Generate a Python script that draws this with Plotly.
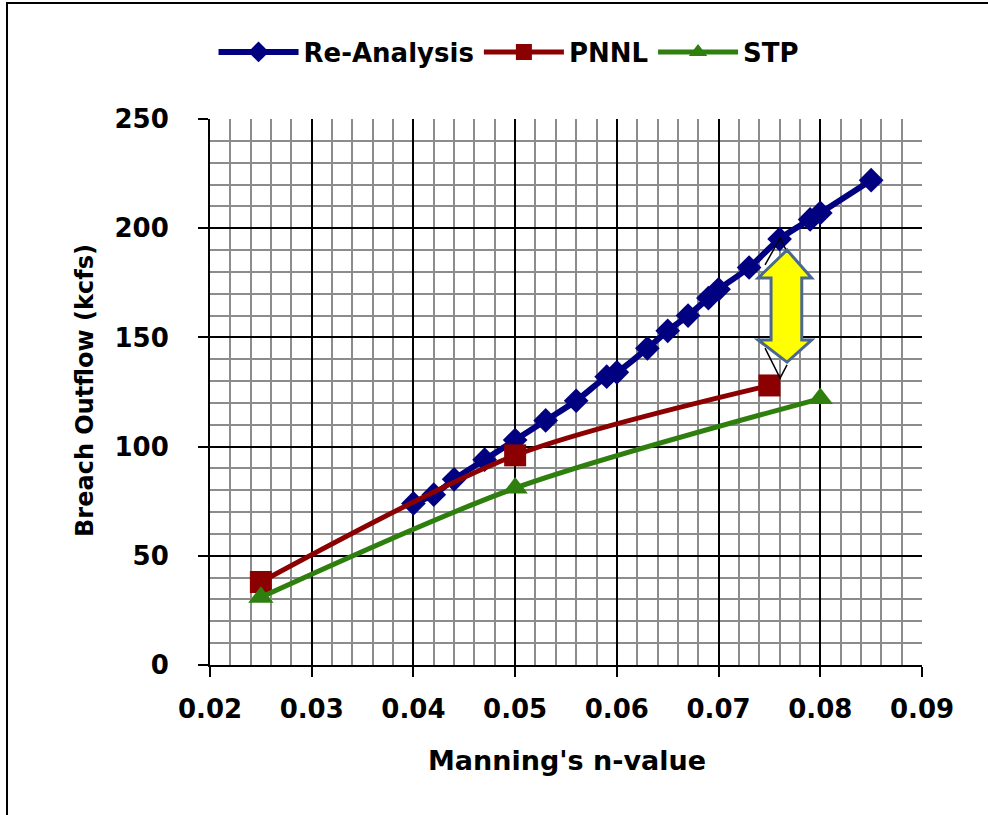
import plotly.graph_objects as go

# ---- data ----
re_x = [0.040, 0.042, 0.044, 0.047, 0.050, 0.053, 0.056, 0.059, 0.060, 0.063,
        0.065, 0.067, 0.069, 0.070, 0.073, 0.076, 0.079, 0.080, 0.085]
re_y = [74, 78, 85, 94, 103, 112, 121, 132, 134, 145,
        153, 160, 168, 172, 182, 195, 204, 207, 222]
pnnl_x = [0.025, 0.050, 0.075]
pnnl_y = [38, 96, 128]
stp_x = [0.025, 0.050, 0.080]
stp_y = [31, 81, 122]
x_ticks = [0.02, 0.03, 0.04, 0.05, 0.06, 0.07, 0.08, 0.09]
y_ticks = [0, 50, 100, 150, 200, 250]

FONT = "DejaVu Sans"

fig = go.Figure()
fig.add_trace(go.Scatter(x=re_x, y=re_y, name="Re-Analysis", mode="lines+markers",
                         line=dict(color="#000080", width=6, shape="spline"),
                         marker=dict(symbol="diamond", size=19, color="#000080")))
fig.add_trace(go.Scatter(x=pnnl_x, y=pnnl_y, name="PNNL", mode="lines+markers",
                         line=dict(color="#8B0000", width=5, shape="spline", smoothing=0.8),
                         marker=dict(symbol="square", size=22, color="#8B0000")))
fig.add_trace(go.Scatter(x=stp_x, y=stp_y, name="STP", mode="lines+markers",
                         line=dict(color="#2F7F0F", width=5, shape="spline", smoothing=0.8),
                         marker=dict(symbol="triangle-up", size=22, color="#2F7F0F")))

# thin black callout lines behind the arrow
fig.add_shape(type="path", xref="x", yref="y",
              path="M 0.07457 183.2 L 0.07605 195.5 L 0.07664 190.0",
              line=dict(color="black", width=1.5), layer="above")
fig.add_shape(type="path", xref="x", yref="y",
              path="M 0.07457 145.1 L 0.07605 131.4 L 0.07673 137.4",
              line=dict(color="black", width=1.5), layer="above")
# yellow double-headed block arrow
arrow = ("M 0.07673 190.0 L 0.07915 177.2 L 0.07818 177.2 L 0.07818 148.8 "
         "L 0.07915 148.8 L 0.07673 138.7 L 0.07389 148.8 L 0.07516 148.8 "
         "L 0.07516 177.2 L 0.07389 177.2 Z")
fig.add_shape(type="path", xref="x", yref="y", path=arrow,
              fillcolor="#FFFF00", line=dict(color="#4A6890", width=3), layer="above")

# outer border
fig.add_shape(type="rect", xref="paper", yref="paper",
              x0=-0.2851, x1=1.2, y0=-0.31, y1=1.2125,
              line=dict(color="black", width=2), fillcolor="rgba(0,0,0,0)", layer="below")

fig.update_layout(
    width=988, height=815,
    margin=dict(l=210, r=66, t=119, b=150),
    paper_bgcolor="white", plot_bgcolor="white",
    font=dict(family=FONT, color="black"),
    showlegend=True,
    legend=dict(orientation="h", x=0.42, xanchor="center", y=1.1227, yanchor="middle",
                font=dict(family=FONT, size=26, weight="bold"), itemwidth=80,
                traceorder="normal"),
    xaxis=dict(range=[0.02, 0.09], tickvals=x_ticks, ticktext=[f"{v:.2f}" for v in x_ticks],
               showgrid=True, gridcolor="black", gridwidth=1.5,
               minor=dict(dtick=0.002, showgrid=True, gridcolor="#8C8C8C", gridwidth=2),
               ticks="outside", ticklen=10, tickwidth=1.5, tickcolor="black",
               showline=True, linecolor="black", linewidth=2, zeroline=False,
               tickfont=dict(family=FONT, size=26, weight="bold"), ticklabelstandoff=10),
    yaxis=dict(range=[0, 250], tickvals=y_ticks,
               showgrid=True, gridcolor="black", gridwidth=1.5,
               minor=dict(dtick=10, showgrid=True, gridcolor="#8C8C8C", gridwidth=2),
               ticks="outside", ticklen=10, tickwidth=1.5, tickcolor="black",
               showline=True, linecolor="black", linewidth=2, zeroline=False,
               tickfont=dict(family=FONT, size=26, weight="bold"), ticklabelstandoff=24),
    annotations=[
        dict(text="Manning's n-value", xref="paper", yref="paper", x=0.5014, y=-0.174,
             xanchor="center", yanchor="middle",
             showarrow=False, font=dict(family=FONT, size=27, weight="bold")),
        dict(text="Breach Outflow (kcfs)", xref="paper", yref="paper", x=-0.1756, y=0.5037,
             xanchor="center", yanchor="middle",
             textangle=-90, showarrow=False, font=dict(family=FONT, size=24, weight="bold")),
    ],
)

fig.write_html("out.html")
